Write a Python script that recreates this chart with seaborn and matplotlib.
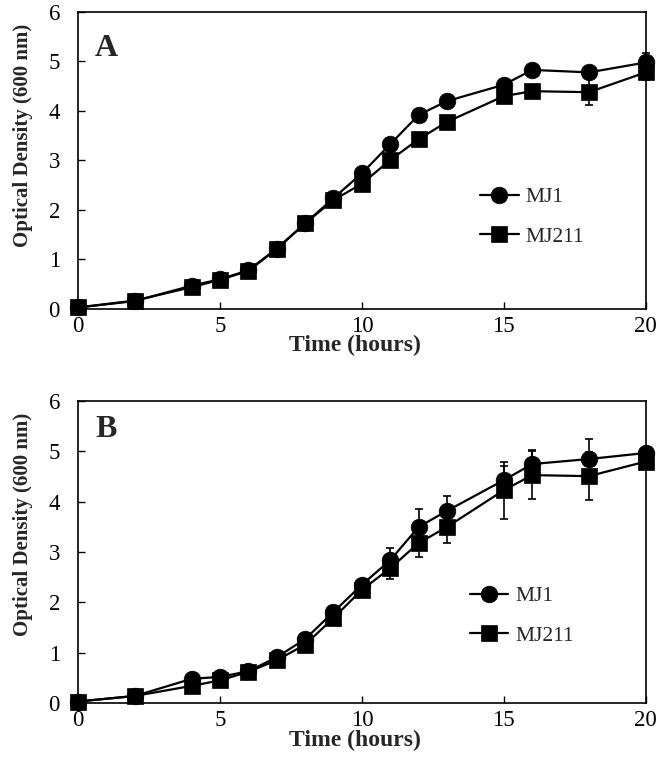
import pandas as pd
import matplotlib
matplotlib.use("Agg")
import matplotlib.pyplot as plt
import seaborn as sns

# --- Data ---
hours = [0, 2, 4, 5, 6, 7, 8, 9, 10, 11, 12, 13, 15, 16, 18, 20]

# panel A
a_mj1 = [0.03, 0.16, 0.47, 0.60, 0.78, 1.22, 1.73, 2.24, 2.74, 3.33, 3.92, 4.20, 4.53, 4.83, 4.78, 4.98]
a_mj211 = [0.03, 0.17, 0.44, 0.59, 0.77, 1.21, 1.73, 2.20, 2.53, 3.01, 3.43, 3.78, 4.30, 4.40, 4.38, 4.78]
a_mj1_err = [0.02, 0.02, 0.05, 0.04, 0.05, 0.05, 0.06, 0.08, 0.08, 0.10, 0.08, 0.08, 0.10, 0.08, 0.10, 0.20]
a_mj211_err = [0.02, 0.02, 0.05, 0.04, 0.05, 0.05, 0.06, 0.08, 0.08, 0.08, 0.08, 0.08, 0.10, 0.08, 0.26, 0.15]

# panel B
b_mj1 = [0.03, 0.14, 0.48, 0.52, 0.63, 0.91, 1.27, 1.81, 2.35, 2.84, 3.50, 3.82, 4.43, 4.75, 4.85, 4.97]
b_mj211 = [0.03, 0.14, 0.34, 0.45, 0.62, 0.85, 1.16, 1.69, 2.25, 2.68, 3.18, 3.50, 4.23, 4.53, 4.51, 4.80]
b_mj1_err = [0.02, 0.02, 0.05, 0.05, 0.05, 0.06, 0.08, 0.10, 0.10, 0.24, 0.36, 0.29, 0.29, 0.28, 0.40, 0.08]
b_mj211_err = [0.02, 0.02, 0.05, 0.05, 0.05, 0.06, 0.08, 0.10, 0.10, 0.21, 0.28, 0.32, 0.57, 0.47, 0.47, 0.08]

strains = ["MJ1", "MJ211"]

sns.set_theme(style="ticks")
plt.rcParams["font.family"] = ["Liberation Serif", "DejaVu Serif"]


def long_df(mj1, mj211, e1, e2):
    return pd.DataFrame({
        "Time": hours * 2,
        "OD": mj1 + mj211,
        "err": e1 + e2,
        "strain": ["MJ1"] * len(hours) + ["MJ211"] * len(hours),
    })


def draw_panel(ax, df, letter, letter_y, leg_xy, ylab_y, xlab_y):
    # error bars first so markers sit on top
    for s in strains:
        sub = df[df["strain"] == s]
        ax.errorbar(sub["Time"], sub["OD"], yerr=sub["err"], fmt="none",
                    ecolor="black", elinewidth=1.2, capsize=3, capthick=1.2,
                    clip_on=False, zorder=2)
    sns.lineplot(data=df, x="Time", y="OD", hue="strain", style="strain",
                 markers={"MJ1": "o", "MJ211": "s"}, dashes=False,
                 palette={"MJ1": "black", "MJ211": "black"},
                 markersize=12, linewidth=1.6, markeredgecolor="black",
                 markeredgewidth=0.5, clip_on=False, zorder=3, ax=ax)

    ax.set_xlim(0, 20)
    ax.set_ylim(0, 6)
    ax.set_xticks([0, 5, 10, 15, 20])
    ax.set_yticks(range(7))
    ax.tick_params(direction="in", length=5, width=1, labelsize=16.5,
                   colors="black")
    ax.tick_params(axis="x", pad=5)
    ax.tick_params(axis="y", pad=13)
    for sp in ax.spines.values():
        sp.set_visible(True)
        sp.set_linewidth(1.2)
        sp.set_color("black")
    ax.set_xlabel("Time (hours)", fontsize=17, fontweight="bold")
    ax.set_ylabel("Optical Density (600 nm)", fontsize=15, fontweight="bold")
    ax.xaxis.set_label_coords(0.488, xlab_y)
    ax.yaxis.set_label_coords(-0.079, ylab_y)
    ax.text(0.03, letter_y, letter, transform=ax.transAxes, fontsize=23,
            fontweight="bold", ha="left", va="top")

    handles, labels = ax.get_legend_handles_labels()
    ax.legend(handles, labels, loc="center left", bbox_to_anchor=leg_xy,
              frameon=False, fontsize=15.5, handlelength=1.8, handletextpad=0.3,
              labelspacing=0.9, borderpad=0, borderaxespad=0)


fig = plt.figure(figsize=(6.64, 7.84), dpi=100)
ax_a = fig.add_axes([0.1175, 0.6059, 0.855, 0.3788])
ax_b = fig.add_axes([0.1175, 0.1033, 0.855, 0.385])

draw_panel(ax_a, long_df(a_mj1, a_mj211, a_mj1_err, a_mj211_err), "A", 0.925,
           (0.708, 0.31), 0.586, -0.087)
draw_panel(ax_b, long_df(b_mj1, b_mj211, b_mj1_err, b_mj211_err), "B", 0.955,
           (0.69, 0.288), 0.593, -0.089)

fig.savefig("out.png", dpi=100)
